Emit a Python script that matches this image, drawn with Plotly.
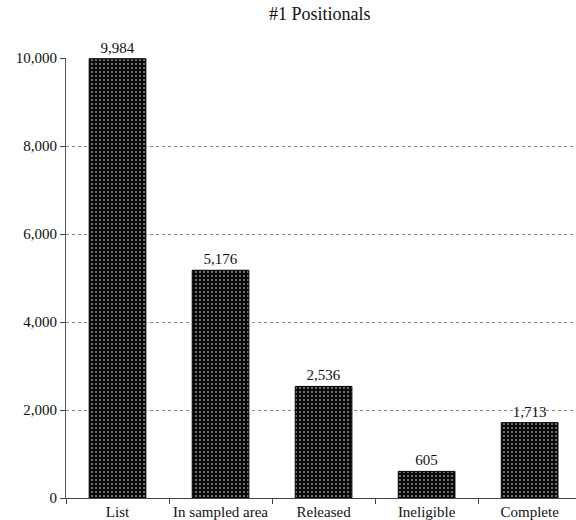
import plotly.graph_objects as go

# Case counts at each stage for #1 positionals
categories = ["List", "In sampled area", "Released", "Ineligible", "Complete"]
counts = [9984, 5176, 2536, 605, 1713]
y_ticks = [0, 2000, 4000, 6000, 8000, 10000]

serif = "Liberation Serif, Times New Roman, serif"

fig = go.Figure(
    go.Bar(
        x=categories,
        y=counts,
        width=0.55,
        marker=dict(
            color="#0a0a0a",
            line=dict(color="#000000", width=1),
            pattern=dict(shape=".", fgcolor="#ffffff", bgcolor="#0a0a0a",
                         size=4, solidity=0.22),
        ),
        texttemplate="%{y:,}",
        textposition="outside",
        textfont=dict(family=serif, size=15, color="#111111"),
        cliponaxis=False,
    )
)

fig.update_layout(
    width=576,
    height=520,
    margin=dict(l=66, r=0, t=58, b=22, autoexpand=False),
    paper_bgcolor="white",
    plot_bgcolor="white",
    showlegend=False,
    font=dict(family=serif, size=15, color="#111111"),
    title=dict(text="#1 Positionals", x=0.555, xanchor="center", y=0.985,
               yanchor="top", font=dict(family=serif, size=18, color="#111111")),
)

fig.update_xaxes(
    type="category",
    range=[-0.5, 4.45],
    automargin=False,
    tickangle=0,
    showline=True,
    linecolor="#444444",
    linewidth=1,
    ticks="outside",
    tickson="boundaries",
    ticklen=5,
    tickcolor="#444444",
    showgrid=False,
    tickfont=dict(family=serif, size=15),
)

fig.update_yaxes(
    range=[0, 10000],
    automargin=False,
    tickvals=y_ticks,
    tickformat=",",
    showline=True,
    linecolor="#555555",
    linewidth=1,
    ticks="outside",
    ticklen=5,
    tickcolor="#444444",
    showgrid=True,
    gridcolor="#888888",
    griddash="dot",
    gridwidth=1,
    zeroline=False,
    tickfont=dict(family=serif, size=15),
)

fig.write_html("out.html")
